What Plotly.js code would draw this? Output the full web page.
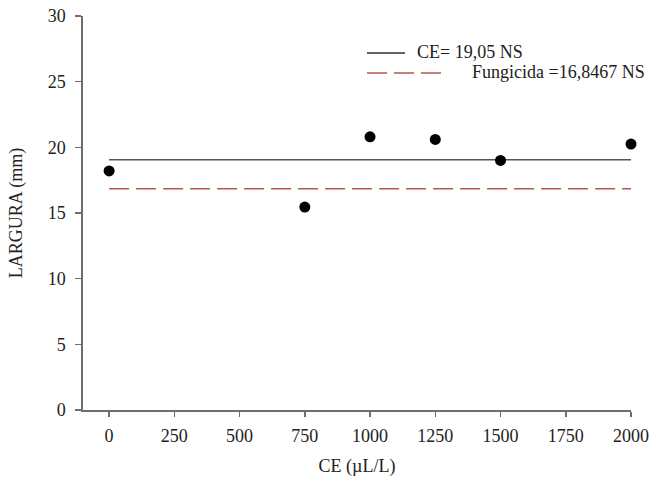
<!DOCTYPE html>
<html>
<head>
<meta charset="utf-8">
<script src="https://cdn.plot.ly/plotly-3.0.1.min.js"></script>
<style>html,body{margin:0;padding:0;background:#fff;}#chart{width:651px;height:489px;}</style>
</head>
<body>
<div id="chart"></div>
<script>
const doses = [0, 750, 1000, 1250, 1500, 2000];
const largura = [18.2, 15.45, 20.8, 20.6, 19.0, 20.25];
const lineX = [0, 2000];
const ceMean = 19.05;
const fungicida = 16.8467;
const xTicks = [0, 250, 500, 750, 1000, 1250, 1500, 1750, 2000];
const yTicks = [0, 5, 10, 15, 20, 25, 30];
const legendLabels = ["CE= 19,05 NS", "Fungicida =16,8467 NS"];

const font = {family: "Liberation Serif, Times New Roman, serif", size: 18, color: "#222"};

const traces = [
  {x: lineX, y: lineX.map(() => ceMean), mode: "lines", line: {color: "#555", width: 1.6}, hoverinfo: "skip"},
  {x: lineX, y: lineX.map(() => fungicida), mode: "lines", line: {color: "#b5584f", width: 1.3, dash: "20px,7px"}, hoverinfo: "skip"},
  {x: doses, y: largura, mode: "markers", marker: {color: "#000", size: 11}, cliponaxis: false}
];

const layout = {
  width: 651, height: 489,
  margin: {l: 83, r: 20, t: 16, b: 79},
  paper_bgcolor: "#fff", plot_bgcolor: "#fff",
  showlegend: false,
  font: font,
  xaxis: {
    range: [-100, 2000], tickvals: xTicks, ticktext: xTicks.map(String),
    showgrid: false, zeroline: false, showline: true, linecolor: "#6e6e6e", linewidth: 1.6,
    ticks: "outside", ticklen: 5, tickcolor: "#6e6e6e", tickwidth: 1.5, ticklabelstandoff: 4,
    title: {text: "CE (µL/L)", font: font, standoff: 14}
  },
  yaxis: {
    range: [0, 30], tickvals: yTicks, ticktext: yTicks.map(String),
    showgrid: false, zeroline: false, showline: true, linecolor: "#6e6e6e", linewidth: 1.6,
    ticks: "outside", ticklen: 6, tickcolor: "#6e6e6e", tickwidth: 1.5, ticklabelstandoff: 6,
    title: {text: "LARGURA (mm)", font: font, standoff: 20}
  },
  shapes: [
    {type: "line", xref: "paper", yref: "paper", x0: (367-83)/548, x1: (405-83)/548, y0: (410-53)/394, y1: (410-53)/394, line: {color: "#333", width: 1.6}},
    {type: "line", xref: "paper", yref: "paper", x0: (367-83)/548, x1: (441-83)/548, y0: (410-73)/394, y1: (410-73)/394, line: {color: "#b5584f", width: 1.3, dash: "20px,7px"}}
  ],
  annotations: [
    {xref: "paper", yref: "paper", x: (415-83)/548, y: (410-52)/394, xanchor: "left", yanchor: "middle", text: legendLabels[0], showarrow: false, font: font},
    {xref: "paper", yref: "paper", x: (470-83)/548, y: (410-72)/394, xanchor: "left", yanchor: "middle", text: legendLabels[1], showarrow: false, font: font}
  ]
};

Plotly.newPlot("chart", traces, layout, {displayModeBar: false, staticPlot: true});
</script>
</body>
</html>
